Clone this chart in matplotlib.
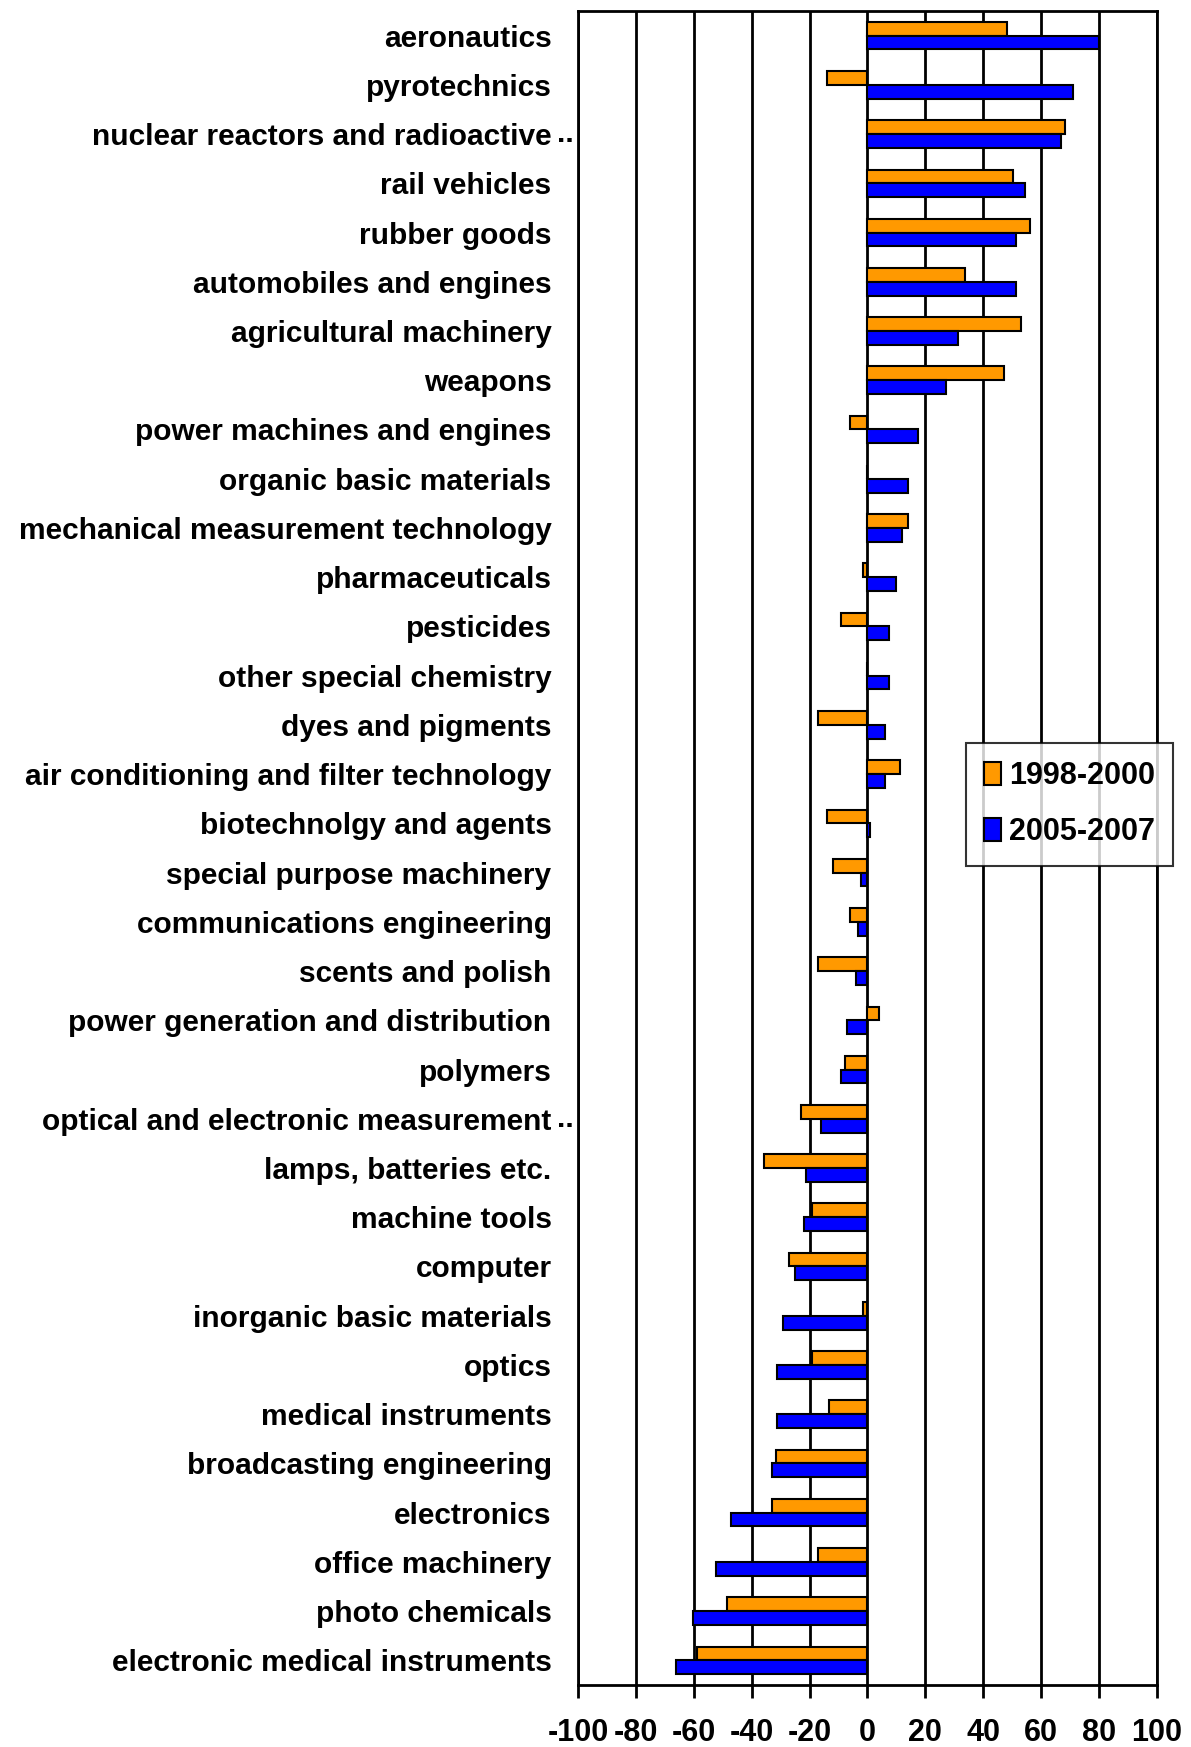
import numpy as np
import matplotlib.pyplot as plt

plt.rcParams['font.family'] = ['Liberation Sans', 'DejaVu Sans']
plt.rcParams['font.weight'] = 'bold'

# categories, top to bottom
categories = [
    'aeronautics', 'pyrotechnics', 'nuclear reactors and radioactive..',
    'rail vehicles', 'rubber goods', 'automobiles and engines',
    'agricultural machinery', 'weapons', 'power machines and engines',
    'organic basic materials', 'mechanical measurement technology',
    'pharmaceuticals', 'pesticides', 'other special chemistry',
    'dyes and pigments', 'air conditioning and filter technology',
    'biotechnolgy and agents', 'special purpose machinery',
    'communications engineering', 'scents and polish',
    'power generation and distribution', 'polymers',
    'optical and electronic measurement..', 'lamps, batteries etc.',
    'machine tools', 'computer', 'inorganic basic materials', 'optics',
    'medical instruments', 'broadcasting engineering', 'electronics',
    'office machinery', 'photo chemicals', 'electronic medical instruments',
]

# values
v_1998 = [48.3, -13.9, 68.2, 50.3, 56.3, 33.7, 53.1, 47.0, -6.0,
          0.0, 14.0, -1.4, -9.3, 0.0, -17.2, 11.4, -13.9,
          -12.0, -6.0, -17.2, 4.0, -7.9, -23.1, -35.9, -19.2, -27.1,
          -1.4, -19.2, -13.2, -31.7, -33.1, -17.2, -48.4, -59.0]
v_2005 = [80.1, 70.9, 66.9, 54.4, 51.2, 51.2, 31.2, 27.1, 17.4,
          14.0, 12.0, 10.0, 7.4, 7.4, 6.1, 6.1, 0.8,
          -2.1, -3.3, -3.9, -7.2, -9.3, -16.0, -21.1, -21.8, -25.2,
          -29.2, -31.2, -31.2, -33.1, -47.1, -52.4, -60.2, -66.2]

xticks = [-100, -80, -60, -40, -20, 0, 20, 40, 60, 80, 100]

fig = plt.figure(figsize=(11.91, 17.47), dpi=100)
ax = fig.add_axes([0.4853, 0.0355, 0.4861, 0.9582])

y = np.arange(len(categories))
h = 0.28
ax.barh(y - h / 2, v_1998, height=h, color='#FF9900', edgecolor='black',
        linewidth=1.5, label='1998-2000', zorder=3)
ax.barh(y + h / 2, v_2005, height=h, color='#0000FF', edgecolor='black',
        linewidth=1.5, label='2005-2007', zorder=3)

ax.set_xlim(-100, 100)
ax.set_ylim(len(categories) - 0.5, -0.5)
ax.set_xticks(xticks)
ax.set_xticklabels([str(t) for t in xticks], fontsize=22, fontweight='bold')
ax.set_yticks(y)
# truncated labels: the ".." hangs past the normal label edge
ax.set_yticklabels([c[:-2] if c.endswith('..') else c for c in categories],
                   fontsize=21.5, fontweight='bold')
ax.tick_params(axis='y', length=0, pad=19)
ax.tick_params(axis='x', direction='out', length=9, width=2, pad=15)
for yi, c in zip(y, categories):
    if c.endswith('..'):
        ax.annotate('..', xy=(-100, yi), xytext=(-3, 0),
                    textcoords='offset points', ha='right', va='center',
                    fontsize=21.5, fontweight='bold', annotation_clip=False)

for t in xticks:
    ax.axvline(t, color='black', linewidth=2, zorder=1)
for s in ax.spines.values():
    s.set_linewidth(2)

leg = ax.legend(loc='upper left', bbox_to_anchor=(0.811, 0.5747),
                bbox_transform=fig.transFigure,
                prop={'weight': 'bold', 'size': 22}, frameon=True,
                fancybox=False, edgecolor='black', handlelength=0.55,
                handleheight=0.75, handletextpad=0.25, labelspacing=0.85,
                borderpad=0.6, borderaxespad=0)
leg.get_frame().set_linewidth(1.5)

fig.savefig('out.png', dpi=100)
